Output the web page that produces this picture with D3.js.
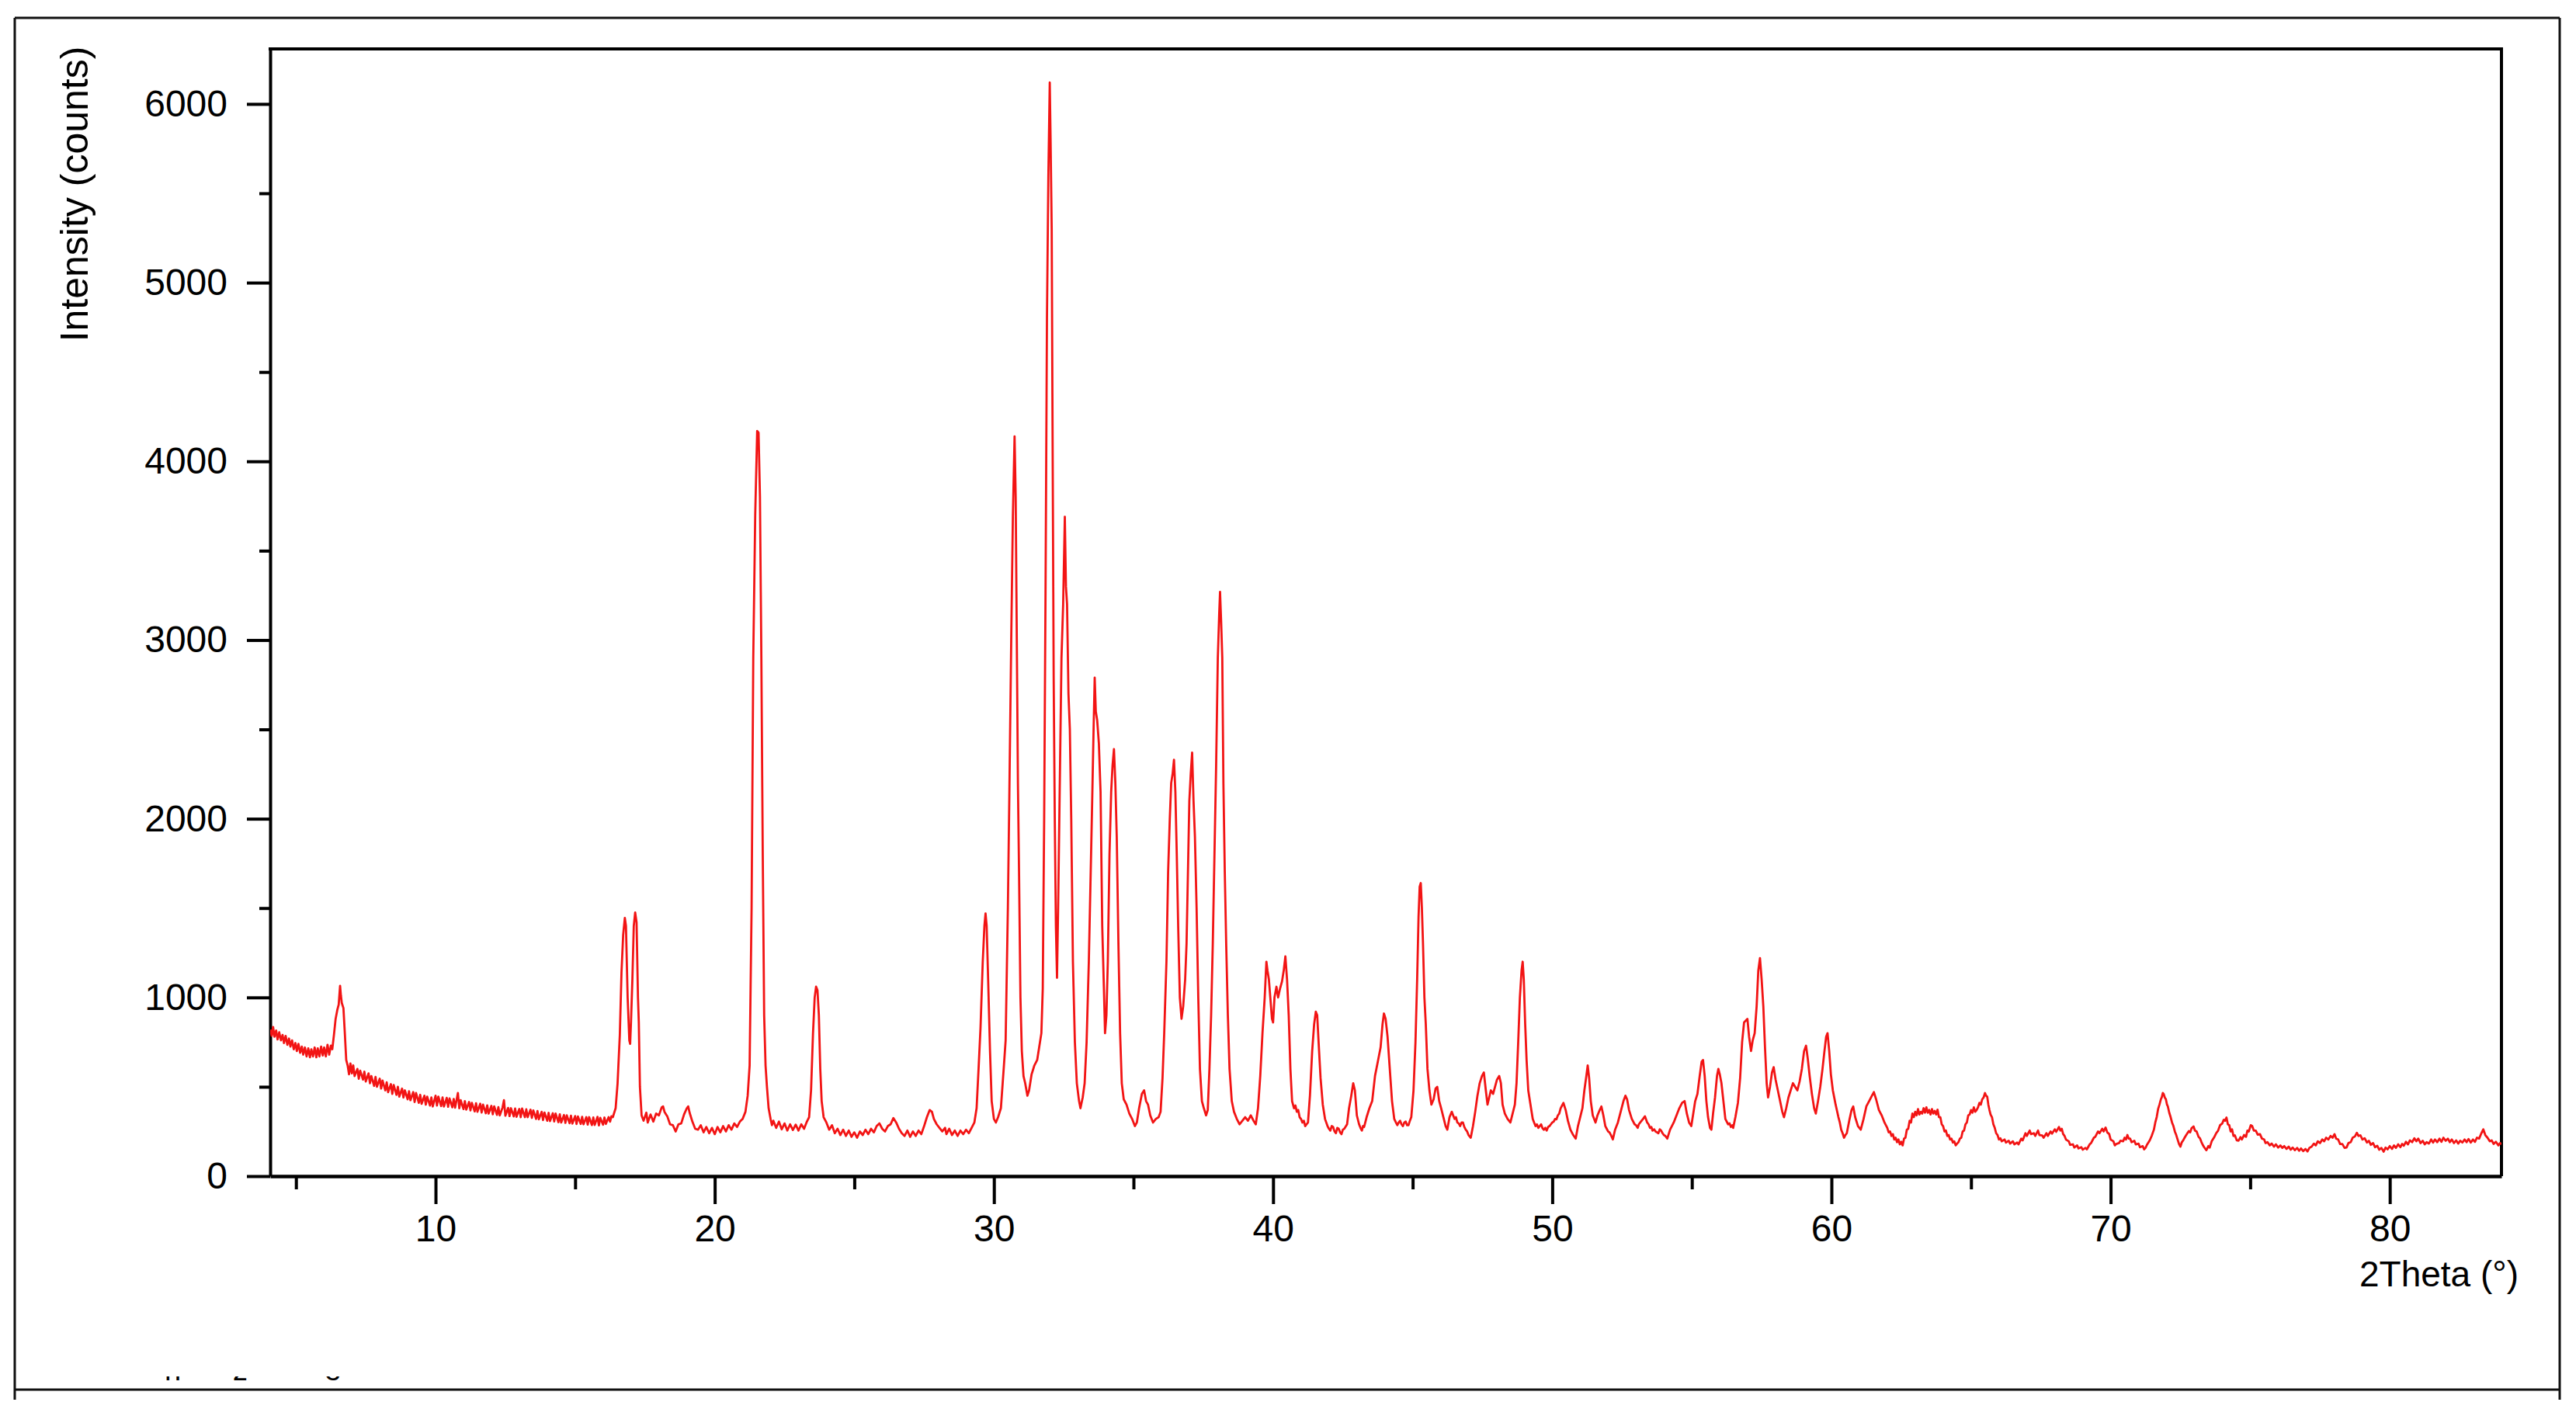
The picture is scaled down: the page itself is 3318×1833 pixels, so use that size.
<!DOCTYPE html>
<html>
<head>
<meta charset="utf-8">
<script src="https://cdnjs.cloudflare.com/ajax/libs/d3/7.8.5/d3.min.js"></script>
<style>
  body { margin: 0; background: #fff; }
  svg text { font-family: "Liberation Sans", Arial, Helvetica, sans-serif; fill: #000; }
</style>
</head>
<body>
<div id="chart"></div>
<script>
// XRD scan, [2theta (deg), intensity (counts)]
const lowAngleScan = [
  [4.08, 820], [4.13, 785], [4.18, 835], [4.23, 780], [4.29, 815], [4.34, 765], [4.4, 805], [4.46, 760],
  [4.52, 790], [4.57, 745], [4.63, 785], [4.69, 735], [4.75, 770], [4.8, 725], [4.86, 760], [4.92, 710],
  [4.98, 745], [5.03, 700], [5.09, 740], [5.15, 690], [5.21, 725], [5.26, 680], [5.32, 720], [5.38, 670],
  [5.44, 715], [5.5, 665], [5.55, 710], [5.61, 670], [5.67, 720], [5.73, 665], [5.78, 715], [5.84, 670],
  [5.9, 725], [5.96, 675], [6.01, 720], [6.07, 670], [6.13, 735], [6.19, 680], [6.25, 730], [6.3, 710],
  [6.36, 790], [6.42, 880], [6.48, 930], [6.53, 960], [6.58, 1065], [6.61, 1010], [6.64, 970], [6.7, 940],
  [6.75, 800], [6.8, 650], [6.85, 620], [6.9, 570], [6.95, 630],
  [7.0, 575], [7.05, 620], [7.1, 560], [7.2, 600], [7.25, 545], [7.3, 590], [7.4, 540], [7.45, 585],
  [7.5, 530], [7.6, 575], [7.65, 520], [7.7, 560], [7.8, 505], [7.85, 555], [7.9, 500], [8.0, 545],
  [8.05, 490], [8.1, 535], [8.2, 480], [8.25, 525], [8.3, 470], [8.4, 515], [8.45, 460], [8.5, 510],
  [8.6, 455], [8.65, 500], [8.7, 445], [8.8, 490], [8.85, 440], [8.9, 480], [9.0, 430], [9.05, 475],
  [9.1, 425], [9.2, 470], [9.25, 415], [9.3, 465], [9.4, 410], [9.45, 455], [9.5, 405], [9.6, 450],
  [9.65, 400], [9.7, 445], [9.8, 395], [9.85, 440], [9.9, 390],
  [10.0, 450], [10.05, 395], [10.1, 445], [10.2, 392], [10.25, 440], [10.3, 390], [10.4, 438], [10.45, 388],
  [10.5, 435], [10.6, 385], [10.65, 432], [10.7, 383], [10.8, 465], [10.85, 380], [10.9, 425], [11.0, 375],
  [11.05, 420], [11.1, 372], [11.2, 415], [11.25, 368], [11.3, 410], [11.4, 362], [11.45, 408], [11.5, 360],
  [11.6, 405], [11.65, 356], [11.7, 400], [11.8, 352], [11.85, 396], [11.9, 350], [12.0, 393], [12.05, 346],
  [12.1, 390], [12.2, 343], [12.25, 386], [12.3, 340], [12.4, 384], [12.45, 425], [12.5, 338], [12.6, 382],
  [12.65, 336], [12.7, 380], [12.8, 334], [12.85, 378], [12.9, 332], [13.0, 376], [13.05, 330], [13.1, 378],
  [13.2, 330], [13.25, 374], [13.3, 330], [13.4, 372], [13.45, 326], [13.5, 368], [13.6, 320], [13.65, 364],
  [13.7, 318], [13.8, 360], [13.85, 314], [13.9, 356], [14.0, 310], [14.05, 354], [14.1, 308], [14.2, 352],
  [14.25, 306], [14.3, 350], [14.4, 302], [14.45, 346], [14.5, 300], [14.6, 342], [14.65, 298], [14.7, 340],
  [14.8, 296], [14.85, 338], [14.9, 294], [15.0, 336], [15.05, 292], [15.1, 334], [15.2, 292], [15.25, 332],
  [15.3, 290], [15.4, 330], [15.45, 288], [15.5, 330], [15.6, 286], [15.65, 328], [15.7, 286], [15.8, 332],
  [15.85, 284], [15.9, 326], [16.0, 288], [16.05, 328], [16.1, 292], [16.2, 330], [16.25, 305], [16.3, 335]
];

const scan16to30 = [
  [16.35, 330], [16.45, 380], [16.52, 520], [16.6, 790], [16.66, 1140], [16.72, 1350], [16.78, 1445],
  [16.82, 1400], [16.88, 1000], [16.94, 760], [16.97, 740], [17.0, 860], [17.05, 1100], [17.1, 1400],
  [17.15, 1475], [17.2, 1420], [17.25, 1000], [17.28, 860], [17.32, 500], [17.38, 340], [17.45, 310],
  [17.55, 355], [17.6, 300], [17.7, 345], [17.8, 305], [17.9, 350], [18.0, 340], [18.1, 385], [18.15, 390],
  [18.2, 360], [18.3, 335], [18.4, 290], [18.5, 285], [18.6, 250], [18.7, 290], [18.8, 295], [18.9, 345],
  [19.0, 380], [19.05, 390], [19.1, 355], [19.2, 305], [19.3, 265], [19.4, 260], [19.5, 285], [19.6, 245],
  [19.7, 275], [19.8, 240], [19.9, 270], [20.0, 235], [20.1, 275], [20.2, 245], [20.3, 280], [20.4, 250],
  [20.5, 285], [20.6, 260], [20.7, 295], [20.8, 275], [20.9, 305], [21.0, 320], [21.1, 360], [21.18, 450],
  [21.25, 620], [21.32, 1500], [21.38, 2900], [21.45, 3700], [21.52, 4170], [21.57, 4160], [21.62, 3800],
  [21.67, 2900], [21.72, 1800], [21.77, 900], [21.82, 620], [21.87, 500], [21.93, 380], [22.0, 320],
  [22.05, 285], [22.1, 310], [22.2, 270], [22.3, 305], [22.4, 262], [22.5, 295], [22.6, 255], [22.7, 290],
  [22.8, 258], [22.9, 288], [23.0, 255], [23.1, 290], [23.2, 265], [23.3, 305], [23.38, 330], [23.45, 480],
  [23.52, 800], [23.58, 1000], [23.63, 1060], [23.68, 1040], [23.73, 900], [23.78, 600], [23.83, 420],
  [23.9, 330], [24.0, 300], [24.1, 260], [24.2, 285], [24.3, 240], [24.4, 265], [24.5, 230], [24.6, 260],
  [24.7, 225], [24.8, 255], [24.9, 220], [25.0, 245], [25.1, 215], [25.2, 250], [25.3, 230], [25.4, 260],
  [25.5, 235], [25.6, 265], [25.7, 245], [25.8, 280], [25.9, 295], [26.0, 265], [26.1, 250], [26.2, 280],
  [26.3, 290], [26.4, 325], [26.5, 300], [26.6, 265], [26.7, 240], [26.8, 225], [26.9, 255], [27.0, 220],
  [27.1, 250], [27.2, 225], [27.3, 255], [27.4, 235], [27.5, 280], [27.6, 330], [27.7, 370], [27.78, 360],
  [27.85, 320], [27.95, 290], [28.05, 270], [28.15, 250], [28.25, 270], [28.3, 235], [28.4, 265], [28.5, 230],
  [28.6, 255], [28.7, 225], [28.8, 255], [28.9, 235], [29.0, 260], [29.1, 240], [29.2, 270], [29.3, 300],
  [29.38, 380], [29.45, 600], [29.52, 830], [29.6, 1200], [29.66, 1400], [29.7, 1470], [29.74, 1400],
  [29.8, 1060], [29.86, 700], [29.92, 420], [30.0, 320], [30.07, 300]
];

const mainPeaks = [
  [30.15, 330], [30.25, 380], [30.35, 600], [30.42, 760], [30.5, 1500], [30.55, 2100], [30.62, 3000],
  [30.68, 3700], [30.74, 4140], [30.78, 3800], [30.82, 3000], [30.86, 2200], [30.9, 1700], [30.95, 1000],
  [31.0, 700], [31.06, 560], [31.12, 520], [31.2, 450], [31.26, 480], [31.35, 570], [31.45, 620],
  [31.55, 650], [31.62, 720], [31.7, 800], [31.75, 1050], [31.8, 2000], [31.85, 3300], [31.9, 4800],
  [31.95, 5600], [32.0, 6120], [32.03, 5800], [32.07, 5300], [32.1, 4200], [32.14, 2800], [32.18, 2000],
  [32.22, 1400], [32.26, 1110], [32.3, 1500], [32.36, 2200], [32.42, 2900], [32.48, 3200], [32.54, 3690],
  [32.58, 3300], [32.62, 3200], [32.67, 2700], [32.72, 2500], [32.77, 2000], [32.83, 1200], [32.9, 750],
  [32.97, 520], [33.05, 420], [33.1, 380], [33.18, 440], [33.25, 520], [33.32, 750], [33.4, 1200],
  [33.46, 1650], [33.52, 2100], [33.57, 2500], [33.61, 2790], [33.65, 2600], [33.7, 2550], [33.76, 2420],
  [33.82, 2150], [33.88, 1400], [33.94, 1050], [33.98, 800], [34.03, 900], [34.08, 1200], [34.14, 1800],
  [34.2, 2150], [34.25, 2300], [34.3, 2390], [34.35, 2200], [34.4, 1900], [34.46, 1300], [34.52, 800],
  [34.58, 520], [34.65, 430], [34.75, 400], [34.85, 350], [34.95, 320], [35.05, 280], [35.12, 300],
  [35.2, 380], [35.3, 460], [35.38, 480], [35.45, 420], [35.52, 400], [35.6, 340], [35.7, 300], [35.8, 320],
  [35.9, 330], [35.97, 360], [36.04, 550], [36.1, 800], [36.18, 1200], [36.24, 1700], [36.3, 2000],
  [36.35, 2200], [36.4, 2250], [36.45, 2330], [36.5, 2150], [36.55, 1800], [36.6, 1400], [36.66, 1000],
  [36.72, 880], [36.78, 950], [36.85, 1100], [36.9, 1300], [36.95, 1700], [37.0, 2100], [37.05, 2250],
  [37.1, 2370], [37.15, 2100], [37.2, 1900], [37.26, 1500], [37.32, 1000], [37.38, 600], [37.45, 420],
  [37.52, 380], [37.6, 340], [37.66, 370], [37.72, 600], [37.78, 900], [37.84, 1300], [37.9, 1800],
  [37.96, 2300], [38.02, 2900], [38.07, 3150], [38.1, 3270], [38.14, 3100], [38.18, 2900], [38.22, 2200],
  [38.27, 1700], [38.32, 1300], [38.38, 900], [38.44, 600], [38.52, 420], [38.6, 360], [38.7, 320],
  [38.8, 290], [38.9, 310], [39.0, 330], [39.1, 310], [39.2, 340], [39.3, 310], [39.38, 290]
];

const scan39to62 = [
  [39.46, 380], [39.54, 560], [39.62, 800], [39.7, 1000], [39.76, 1200], [39.8, 1150], [39.85, 1100],
  [39.9, 1000], [39.96, 880], [40.0, 860], [40.05, 1000], [40.12, 1060], [40.18, 1000], [40.25, 1050],
  [40.32, 1090], [40.38, 1150], [40.44, 1230], [40.5, 1100], [40.56, 900], [40.62, 600], [40.68, 420],
  [40.75, 380], [40.8, 395], [40.85, 360], [40.9, 370], [40.95, 330], [41.0, 320], [41.05, 300], [41.1, 310],
  [41.15, 280], [41.2, 290], [41.25, 300], [41.32, 450],
  [41.4, 700], [41.47, 850], [41.53, 920], [41.58, 900], [41.63, 750], [41.7, 550], [41.78, 400],
  [41.86, 320], [41.95, 280], [42.0, 265], [42.05, 255], [42.1, 280], [42.15, 275], [42.2, 250], [42.25, 240],
  [42.3, 270], [42.35, 265], [42.4, 245], [42.45, 235], [42.5, 260],
  [42.55, 265], [42.65, 290], [42.72, 380], [42.8, 450], [42.87, 520], [42.93, 480], [43.0, 340],
  [43.08, 290], [43.13, 270], [43.18, 255], [43.22, 280], [43.26, 275], [43.35, 330], [43.45, 380], [43.55, 420], [43.65, 560],
  [43.75, 640], [43.85, 720], [43.92, 850], [43.97, 910], [44.03, 880], [44.1, 780], [44.18, 600],
  [44.26, 420], [44.34, 320], [44.4, 300], [44.45, 285], [44.5, 300], [44.55, 310], [44.6, 290], [44.65, 280],
  [44.7, 300], [44.75, 305], [44.8, 285], [44.85, 285], [44.9, 310],
  [44.95, 330], [45.03, 480], [45.1, 750], [45.16, 1100], [45.21, 1450], [45.25, 1620], [45.29, 1640],
  [45.33, 1500], [45.37, 1300], [45.42, 1000], [45.47, 850], [45.53, 600], [45.6, 480], [45.67, 400],
  [45.75, 430], [45.82, 490], [45.88, 500], [45.95, 420], [46.02, 380], [46.1, 330], [46.18, 280],
  [46.24, 260], [46.32, 330], [46.4, 360], [46.45, 340], [46.5, 320], [46.55, 330], [46.6, 300], [46.65, 295],
  [46.7, 280], [46.75, 300], [46.8, 300], [46.85, 275], [46.9, 260], [46.95, 250],
  [47.0, 230], [47.08, 215], [47.16, 280], [47.24, 360], [47.32, 450], [47.4, 520], [47.48, 560],
  [47.55, 580], [47.62, 480], [47.68, 400], [47.74, 440], [47.8, 480], [47.88, 460], [47.95, 500],
  [48.02, 540], [48.1, 560], [48.16, 520], [48.22, 400], [48.3, 350], [48.4, 320], [48.5, 300], [48.58, 350],
  [48.66, 400], [48.72, 520], [48.78, 750], [48.84, 1000], [48.9, 1150], [48.94, 1200], [48.98, 1100],
  [49.03, 850], [49.08, 650], [49.14, 480], [49.22, 400], [49.3, 320], [49.35, 300], [49.4, 280], [49.45, 290],
  [49.5, 270], [49.55, 280], [49.6, 290], [49.65, 268], [49.7, 260], [49.75, 270], [49.8, 255], [49.85, 275],
  [49.9, 280], [49.95, 290], [50.0, 300], [50.05, 305], [50.1, 320], [50.15, 318], [50.2, 340], [50.25, 350], [50.3, 380], [50.4, 410],
  [50.48, 370], [50.56, 310], [50.65, 260], [50.75, 230], [50.84, 210], [50.92, 280], [51.0, 330],
  [51.08, 380], [51.15, 480], [51.22, 560], [51.27, 620], [51.32, 550], [51.38, 420], [51.45, 340],
  [51.55, 300], [51.62, 340], [51.7, 370], [51.76, 390], [51.83, 340], [51.9, 280], [51.95, 265], [52.0, 250],
  [52.05, 245], [52.1, 230], [52.17, 205], [52.25, 260], [52.35, 300], [52.45, 360], [52.55, 420], [52.62, 450], [52.68, 430],
  [52.75, 370], [52.85, 320], [52.95, 290], [53.0, 285], [53.06, 270], [53.1, 290], [53.15, 300], [53.25, 320], [53.32, 335],
  [53.4, 300], [53.45, 290], [53.5, 270], [53.55, 275], [53.59, 255], [53.65, 262], [53.7, 250], [53.75, 245],
  [53.8, 240], [53.85, 262], [53.9, 255], [53.95, 240], [54.0, 230], [54.05, 225], [54.12, 210],
  [54.22, 260], [54.35, 300], [54.45, 340], [54.55, 380], [54.65, 410], [54.74, 420], [54.82, 350],
  [54.9, 300], [54.98, 280], [55.05, 350], [55.12, 420], [55.2, 460], [55.28, 560], [55.35, 640],
  [55.4, 650], [55.46, 560], [55.52, 420], [55.58, 330], [55.65, 270], [55.7, 260], [55.76, 350],
  [55.83, 440], [55.9, 560], [55.95, 600], [56.0, 570], [56.06, 520], [56.13, 420], [56.2, 320],
  [56.3, 290], [56.35, 295], [56.4, 275], [56.45, 285], [56.48, 270], [56.56, 330], [56.65, 410], [56.73, 550], [56.8, 750],
  [56.87, 860], [56.93, 870], [56.99, 880], [57.05, 780], [57.12, 700], [57.18, 760], [57.25, 800],
  [57.32, 950], [57.38, 1150], [57.44, 1220], [57.5, 1100], [57.56, 950], [57.62, 720], [57.68, 520],
  [57.73, 440], [57.8, 500], [57.87, 580], [57.93, 610], [58.0, 540], [58.08, 480], [58.16, 420],
  [58.24, 360], [58.3, 330], [58.38, 380], [58.46, 440], [58.54, 480], [58.62, 520], [58.7, 500],
  [58.78, 480], [58.86, 530], [58.94, 600], [59.02, 700], [59.09, 730], [59.15, 660], [59.22, 560],
  [59.3, 460], [59.38, 380], [59.44, 350], [59.52, 420], [59.6, 500], [59.68, 600], [59.75, 700],
  [59.81, 780], [59.86, 800], [59.92, 700], [59.98, 570], [60.05, 480], [60.15, 400], [60.25, 330],
  [60.3, 300], [60.35, 260], [60.4, 240], [60.45, 215], [60.5, 230], [60.55, 240], [60.65, 320], [60.72, 370], [60.78, 390], [60.85, 330],
  [60.95, 280], [61.0, 270], [61.05, 260], [61.15, 320], [61.25, 390], [61.35, 420], [61.45, 450], [61.52, 470],
  [61.6, 430], [61.7, 370], [61.75, 355], [61.8, 340], [61.85, 320], [61.9, 300], [61.95, 285]
];

const highAngleScan = [
  [62.0, 270], [62.05, 245], [62.1, 250], [62.15, 225], [62.2, 235], [62.25, 205], [62.3, 215], [62.35, 190],
  [62.4, 205], [62.45, 178], [62.5, 192], [62.55, 172], [62.6, 210], [62.65, 215], [62.7, 260], [62.75, 265],
  [62.8, 310], [62.85, 300], [62.9, 350], [62.95, 330], [63.0, 360], [63.05, 340], [63.1, 375], [63.15, 345],
  [63.2, 360], [63.25, 350], [63.3, 380], [63.35, 355], [63.4, 385], [63.45, 355], [63.5, 370], [63.55, 345],
  [63.6, 375], [63.65, 350], [63.7, 365], [63.75, 345], [63.8, 372], [63.85, 330], [63.9, 330], [63.95, 290],
  [64.0, 280], [64.05, 250], [64.1, 255], [64.15, 225], [64.2, 230], [64.25, 205], [64.3, 210], [64.35, 188],
  [64.4, 195], [64.45, 172], [64.5, 182], [64.55, 190], [64.6, 210], [64.65, 215], [64.7, 250], [64.75, 255],
  [64.8, 290], [64.85, 300], [64.9, 340], [64.95, 345], [65.0, 370], [65.05, 355], [65.1, 385], [65.15, 360],
  [65.2, 370], [65.25, 385], [65.3, 410], [65.35, 400], [65.4, 430], [65.45, 440], [65.5, 465], [65.54, 450],
  [65.58, 445], [65.62, 400], [65.66, 370], [65.7, 345], [65.75, 330], [65.8, 290], [65.85, 270], [65.9, 240],
  [65.95, 230], [66.0, 205], [66.05, 212], [66.1, 195], [66.2, 205], [66.25, 188], [66.35, 198], [66.4, 182],
  [66.5, 195], [66.55, 178], [66.65, 188], [66.7, 178], [66.8, 210], [66.85, 200], [66.95, 240], [67.0, 225],
  [67.1, 255], [67.15, 235], [67.25, 240], [67.3, 225], [67.4, 255], [67.45, 230], [67.55, 228], [67.6, 215],
  [67.7, 240], [67.75, 225], [67.85, 250], [67.9, 238], [68.0, 262], [68.05, 248], [68.15, 275], [68.2, 255],
  [68.25, 265], [68.3, 235], [68.35, 225], [68.4, 205], [68.5, 195], [68.55, 175], [68.65, 178], [68.7, 160],
  [68.8, 172], [68.85, 155], [68.95, 162], [69.0, 148], [69.1, 158], [69.15, 150], [69.25, 178], [69.3, 185],
  [69.4, 215], [69.45, 220], [69.55, 250], [69.6, 240], [69.7, 265], [69.75, 250], [69.82, 272], [69.88, 245],
  [69.95, 235], [70.0, 205], [70.1, 195], [70.15, 172], [70.2, 180], [70.3, 185], [70.35, 198], [70.45, 195],
  [70.5, 215], [70.55, 205], [70.6, 230], [70.65, 210], [70.7, 210], [70.75, 190], [70.85, 198], [70.9, 178],
  [71.0, 182], [71.05, 162], [71.15, 168], [71.2, 150], [71.25, 158], [71.3, 175], [71.4, 200], [71.47, 225],
  [71.55, 260], [71.6, 300], [71.65, 330], [71.7, 375], [71.75, 400], [71.8, 430], [71.83, 440], [71.87, 465],
  [71.9, 460], [71.94, 440], [71.98, 430], [72.02, 400], [72.05, 390], [72.1, 355], [72.15, 330], [72.2, 300],
  [72.25, 280], [72.3, 250], [72.35, 230], [72.4, 205], [72.45, 180], [72.5, 165], [72.55, 190], [72.6, 200],
  [72.65, 215], [72.7, 228], [72.75, 240], [72.8, 252], [72.85, 245], [72.9, 268], [72.97, 278], [73.02, 255],
  [73.08, 250], [73.15, 220], [73.2, 212], [73.25, 192], [73.3, 175], [73.35, 162], [73.43, 145], [73.5, 168],
  [73.55, 160], [73.62, 195], [73.7, 215], [73.78, 240], [73.85, 255], [73.92, 285], [74.0, 295], [74.05, 315],
  [74.1, 310], [74.15, 328], [74.2, 290], [74.25, 285], [74.3, 250], [74.35, 262], [74.4, 225], [74.45, 228],
  [74.52, 200], [74.58, 198], [74.65, 218], [74.7, 205], [74.78, 230], [74.85, 220], [74.9, 255], [74.95, 250],
  [75.02, 285], [75.07, 280], [75.13, 255], [75.2, 255], [75.27, 232], [75.35, 235], [75.42, 210], [75.5, 205],
  [75.55, 185], [75.62, 190], [75.7, 172], [75.77, 182], [75.85, 165], [75.92, 178], [76.0, 160], [76.08, 172],
  [76.15, 158], [76.22, 168], [76.3, 152], [76.38, 165], [76.45, 148], [76.52, 160], [76.6, 145], [76.68, 158],
  [76.75, 142], [76.82, 155], [76.9, 140], [76.98, 152], [77.05, 138], [77.12, 158], [77.2, 165], [77.28, 182],
  [77.35, 172], [77.42, 195], [77.5, 185], [77.58, 205], [77.65, 195], [77.72, 215], [77.8, 205], [77.88, 225],
  [77.95, 215], [78.02, 235], [78.08, 210], [78.15, 205], [78.22, 180], [78.3, 180], [78.38, 158], [78.45, 160],
  [78.52, 185], [78.6, 190], [78.67, 215], [78.75, 222], [78.82, 242], [78.88, 225], [78.95, 228], [79.02, 205],
  [79.1, 212], [79.18, 188], [79.25, 198], [79.32, 175], [79.4, 185], [79.47, 162], [79.55, 170], [79.62, 148],
  [79.7, 158], [79.78, 137], [79.85, 160], [79.92, 150], [80.0, 168], [80.08, 152], [80.15, 172], [80.22, 158],
  [80.3, 178], [80.38, 162], [80.44, 180], [80.5, 170], [80.58, 192], [80.65, 178], [80.72, 200], [80.8, 190],
  [80.88, 212], [80.95, 195], [81.02, 210], [81.1, 185], [81.18, 198], [81.25, 178], [81.32, 190], [81.4, 182],
  [81.48, 205], [81.55, 188], [81.62, 205], [81.7, 190], [81.78, 210], [81.85, 192], [81.92, 215], [82.0, 198],
  [82.08, 210], [82.15, 190], [82.22, 205], [82.3, 185], [82.38, 200], [82.45, 182], [82.52, 198], [82.6, 188],
  [82.68, 205], [82.75, 190], [82.82, 208], [82.9, 188], [82.98, 205], [83.05, 192], [83.12, 215], [83.2, 210],
  [83.28, 240], [83.35, 262], [83.42, 230], [83.5, 215], [83.58, 195], [83.65, 200], [83.72, 180], [83.8, 192],
  [83.89, 172], [83.95, 185], [84.0, 178]
];

// Axis ticks
const xMajorTicks = [10, 20, 30, 40, 50, 60, 70, 80];
const xMinorTicks = [5, 15, 25, 35, 45, 55, 65, 75];
const yMajorTicks = [0, 1000, 2000, 3000, 4000, 5000, 6000];
const yMinorTicks = [500, 1500, 2500, 3500, 4500, 5500];
const labelXAxis = "2Theta (°)";
const labelYAxis = "Intensity (counts)";

const scan = []
  .concat(lowAngleScan, scan16to30, mainPeaks, scan39to62, highAngleScan)
  .sort((a, b) => a[0] - b[0]);

// Set up
const svg_width = 3318;
const svg_height = 1833;
const plot = { left: 348, right: 3222, top: 63, bottom: 1515 };

const xScale = d3
  .scaleLinear()
  .domain([4.076, 84.0])
  .range([plot.left, plot.right]);

const yScale = d3
  .scaleLinear()
  .domain([0, 6308])
  .range([plot.bottom, plot.top]);

const svg = d3
  .select("#chart")
  .append("svg")
  .attr("width", svg_width)
  .attr("height", svg_height)
  .style("display", "block");

svg.append("rect")
  .attr("width", svg_width)
  .attr("height", svg_height)
  .attr("fill", "#fff");

// outer frame of the figure
const frame = svg.append("g").attr("stroke", "#111").attr("stroke-width", 3);
frame.append("line").attr("x1", 19).attr("x2", 3297).attr("y1", 23).attr("y2", 23);
frame.append("line").attr("x1", 19).attr("x2", 19).attr("y1", 23).attr("y2", 1803);
frame.append("line").attr("x1", 3297).attr("x2", 3297).attr("y1", 23).attr("y2", 1803);
frame.append("line").attr("x1", 19).attr("x2", 3297).attr("y1", 1790).attr("y2", 1790);

// bits of a cut-off caption just above the bottom frame line
svg.append("clipPath")
  .attr("id", "caption-clip")
  .append("rect")
  .attr("x", 150).attr("y", 1773).attr("width", 350).attr("height", 6);
const caption = svg.append("g")
  .attr("clip-path", "url(#caption-clip)")
  .style("font-size", "38px");
[["n", 212], ["z", 300], ["e", 418]].forEach(function(c) {
  caption.append("text").attr("x", c[1]).attr("y", 1778).text(c[0]);
});

// Axes
const xAxis = svg.append("g")
  .attr("class", "x-axis")
  .attr("transform", "translate(0," + plot.bottom + ")")
  .call(
    d3.axisBottom(xScale)
      .tickValues(xMajorTicks)
      .tickSize(36)
      .tickSizeOuter(0)
      .tickPadding(14)
      .tickFormat(d3.format("d"))
  );

const xMinor = svg.append("g")
  .attr("transform", "translate(0," + plot.bottom + ")")
  .call(
    d3.axisBottom(xScale)
      .tickValues(xMinorTicks)
      .tickSize(17)
      .tickFormat("")
  );
xMinor.select(".domain").remove();

const yAxis = svg.append("g")
  .attr("class", "y-axis")
  .attr("transform", "translate(" + plot.left + ",0)")
  .call(
    d3.axisLeft(yScale)
      .tickValues(yMajorTicks)
      .tickSize(30)
      .tickSizeOuter(0)
      .tickPadding(25)
      .tickFormat(d3.format("d"))
  );

const yMinor = svg.append("g")
  .attr("transform", "translate(" + plot.left + ",0)")
  .call(
    d3.axisLeft(yScale)
      .tickValues(yMinorTicks)
      .tickSize(14)
      .tickFormat("")
  );
yMinor.select(".domain").remove();

svg.selectAll(".tick line").attr("stroke", "#000").attr("stroke-width", 4);
xAxis.select(".domain").attr("stroke", "#000").attr("stroke-width", 4.5);
yAxis.select(".domain").attr("stroke", "#000").attr("stroke-width", 4);
svg.selectAll(".x-axis text, .y-axis text")
  .style("font-size", "48px")
  .style("font-family", "'Liberation Sans', Arial, sans-serif")
  .attr("fill", "#000");

// top and right edges of the plot box
const box = svg.append("g").attr("stroke", "#000").attr("stroke-width", 4);
box.append("line")
  .attr("x1", xScale(xScale.domain()[0]) - 2).attr("x2", xScale(xScale.domain()[1]) + 2)
  .attr("y1", yScale(yScale.domain()[1])).attr("y2", yScale(yScale.domain()[1]));
box.append("line")
  .attr("x1", xScale(xScale.domain()[1])).attr("x2", xScale(xScale.domain()[1]))
  .attr("y1", yScale(yScale.domain()[1])).attr("y2", yScale(0));

// axis labels
svg.append("text")
  .attr("transform", "translate(113,250) rotate(-90)")
  .attr("text-anchor", "middle")
  .style("font-size", "50px")
  .text(labelYAxis);

svg.append("text")
  .attr("x", 3244)
  .attr("y", 1657)
  .attr("text-anchor", "end")
  .style("font-size", "46px")
  .text(labelXAxis);

// draw the scan
svg.append("clipPath")
  .attr("id", "plot-clip")
  .append("rect")
  .attr("x", plot.left)
  .attr("y", plot.top)
  .attr("width", plot.right - plot.left)
  .attr("height", plot.bottom - plot.top);

const line = d3
  .line()
  .x(d => xScale(d[0]))
  .y(d => yScale(d[1]));

svg.append("path")
  .datum(scan)
  .attr("clip-path", "url(#plot-clip)")
  .attr("fill", "none")
  .attr("stroke", "#f21414")
  .attr("stroke-width", 2.8)
  .attr("stroke-linejoin", "round")
  .attr("d", line);
</script>
</body>
</html>
